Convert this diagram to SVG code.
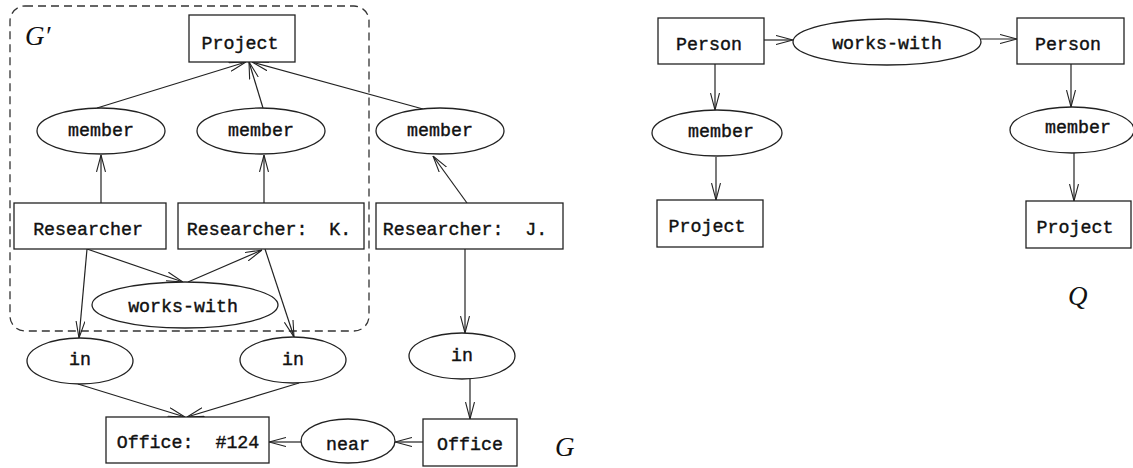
<svg xmlns="http://www.w3.org/2000/svg" width="1133" height="468" viewBox="0 0 1133 468">
<style>
.box{fill:#fff;stroke:#222;stroke-width:1.3}
.ell{fill:#fff;stroke:#222;stroke-width:1.3}
.t{font-family:"Liberation Mono",monospace;font-size:18.3px;fill:#111;stroke:#111;stroke-width:0.4;text-anchor:middle}
.lbl{font-family:"Liberation Serif",serif;font-style:italic;font-size:27px;fill:#111}
.e{fill:none;stroke:#222;stroke-width:1.2;marker-end:url(#ah)}
.dash{fill:none;stroke:#333;stroke-width:1.3;stroke-dasharray:8 5}
</style>
<defs>
<marker id="ah" viewBox="0 0 17 10" refX="17" refY="5" markerWidth="17" markerHeight="10" markerUnits="userSpaceOnUse" orient="auto">
<path d="M0,0.5 L17,5 L0,9.5" fill="none" stroke="#222" stroke-width="1.1"/>
</marker>
</defs>
<rect width="1133" height="468" fill="#fff"/>
<g id="subgraph-Gprime">
<rect class="dash" x="10" y="6" width="359" height="325" rx="15" ry="15"/>
<text class="lbl" x="25" y="45">G′</text>
</g>
<g id="label-G"><text class="lbl" x="555" y="456">G</text></g>
<g id="label-Q"><text class="lbl" x="1068" y="305">Q</text></g>
<g id="connectors">
<line class="e" x1="97" y1="108" x2="246" y2="62"/>
<line class="e" x1="263" y1="108" x2="249" y2="62"/>
<line class="e" x1="423" y1="109" x2="252" y2="62"/>
<line class="e" x1="101" y1="203" x2="101" y2="155"/>
<line class="e" x1="264" y1="203" x2="264" y2="155"/>
<line class="e" x1="467" y1="203" x2="433" y2="156"/>
<line class="e" x1="87" y1="249" x2="183" y2="282"/>
<line class="e" x1="188" y1="282" x2="262" y2="250"/>
<line class="e" x1="87" y1="249" x2="79" y2="338"/>
<line class="e" x1="265" y1="249" x2="294" y2="337"/>
<line class="e" x1="465" y1="249" x2="465" y2="333"/>
<line class="e" x1="78" y1="384" x2="185" y2="417"/>
<line class="e" x1="299" y1="383" x2="187" y2="417"/>
<line class="e" x1="470" y1="379" x2="470" y2="419"/>
<line class="e" x1="423" y1="442" x2="395" y2="442"/>
<line class="e" x1="301" y1="442" x2="269" y2="442"/>
<line class="e" x1="764" y1="40" x2="793" y2="40"/>
<line class="e" x1="981" y1="39" x2="1017" y2="39"/>
<line class="e" x1="715" y1="64" x2="715" y2="110"/>
<line class="e" x1="716" y1="157" x2="716" y2="200"/>
<line class="e" x1="1071" y1="64" x2="1071" y2="107"/>
<line class="e" x1="1074" y1="153" x2="1074" y2="201"/>
</g>
<g id="n-project"><rect class="box" x="189" y="15" width="106" height="47"/><text class="t" x="240" y="49">Project</text></g>
<g id="n-member1"><ellipse class="ell" cx="101" cy="131" rx="64" ry="23"/><text class="t" x="101" y="136">member</text></g>
<g id="n-member2"><ellipse class="ell" cx="261" cy="131" rx="64" ry="23"/><text class="t" x="261" y="136">member</text></g>
<g id="n-member3"><ellipse class="ell" cx="440" cy="131" rx="64" ry="23"/><text class="t" x="440" y="136">member</text></g>
<g id="n-researcher"><rect class="box" x="14" y="203" width="152" height="46"/><text class="t" x="88" y="235">Researcher</text></g>
<g id="n-researcherK"><rect class="box" x="178" y="203" width="186" height="46"/><text class="t" x="269" y="235" xml:space="preserve">Researcher:  K.</text></g>
<g id="n-researcherJ"><rect class="box" x="376" y="203" width="187" height="46"/><text class="t" x="465" y="235" xml:space="preserve">Researcher:  J.</text></g>
<g id="n-workswith"><ellipse class="ell" cx="185" cy="305" rx="93" ry="23"/><text class="t" x="183" y="312">works-with</text></g>
<g id="n-in1"><ellipse class="ell" cx="80" cy="361" rx="53" ry="23"/><text class="t" x="80" y="365">in</text></g>
<g id="n-in2"><ellipse class="ell" cx="293" cy="360" rx="53" ry="23"/><text class="t" x="293" y="365">in</text></g>
<g id="n-in3"><ellipse class="ell" cx="462" cy="356" rx="53" ry="23"/><text class="t" x="462" y="361">in</text></g>
<g id="n-office124"><rect class="box" x="106" y="417" width="163" height="46"/><text class="t" x="188" y="448" xml:space="preserve">Office:  #124</text></g>
<g id="n-near"><ellipse class="ell" cx="348" cy="441" rx="47" ry="22"/><text class="t" x="348" y="450">near</text></g>
<g id="n-office"><rect class="box" x="423" y="419" width="94" height="47"/><text class="t" x="470" y="450">Office</text></g>
<g id="q-person1"><rect class="box" x="658" y="18" width="106" height="46"/><text class="t" x="709" y="50">Person</text></g>
<g id="q-workswith"><ellipse class="ell" cx="887" cy="42" rx="94" ry="23"/><text class="t" x="887" y="49">works-with</text></g>
<g id="q-person2"><rect class="box" x="1017" y="18" width="107" height="46"/><text class="t" x="1068" y="50">Person</text></g>
<g id="q-member1"><ellipse class="ell" cx="717" cy="133" rx="65" ry="23"/><text class="t" x="721" y="137">member</text></g>
<g id="q-member2"><ellipse class="ell" cx="1072" cy="130" rx="62" ry="23"/><text class="t" x="1078" y="133">member</text></g>
<g id="q-project1"><rect class="box" x="657" y="200" width="106" height="47"/><text class="t" x="707" y="232">Project</text></g>
<g id="q-project2"><rect class="box" x="1026" y="201" width="105" height="47"/><text class="t" x="1075" y="233">Project</text></g>
</svg>
